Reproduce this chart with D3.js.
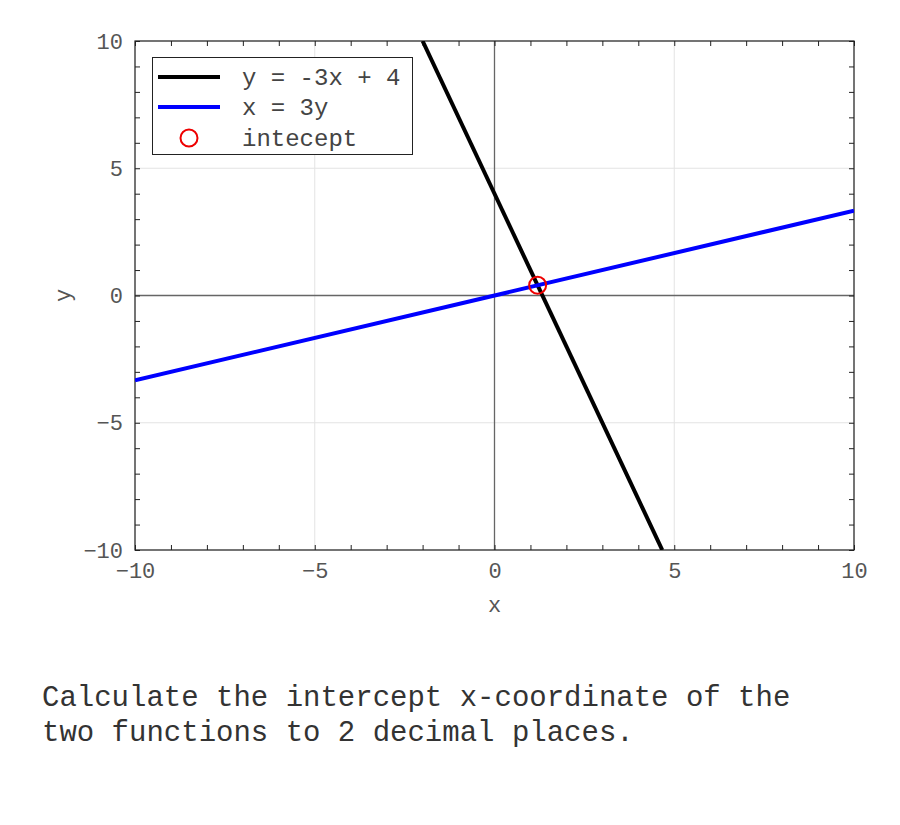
<!DOCTYPE html>
<html><head><meta charset="utf-8">
<script src="https://cdn.jsdelivr.net/npm/d3@7"></script>
<style>body{margin:0;background:#fff;} svg{display:block;}</style>
</head><body>
<svg id="chart" width="900" height="825"></svg>
<script>
const xDomain = [-10, 10];
const yDomain = [-10, 10];
const majorTicks = [-10, -5, 0, 5, 10];
const minorTicks = d3.range(-10, 11, 1);
const lineBlack = [[-2, 10], [14/3, -10]];          // y = -3x + 4
const lineBlue = [[-10, -10/3], [10, 10/3]];         // x = 3y
const intercept = [[1.2, 0.4]];
const legendLabels = ["y = -3x + 4", "x = 3y", "intecept"];
const question = ["Calculate the intercept x-coordinate of the", "two functions to 2 decimal places."];

const svg = d3.select("#chart");
const L = 135, R = 854, T = 41, B = 550;
const font = "'Liberation Mono', 'Courier New', monospace";
const x = d3.scaleLinear().domain(xDomain).range([L, R]);
const y = d3.scaleLinear().domain(yDomain).range([B, T]);

// grid
const g = svg.append("g");
g.selectAll(".gx").data(majorTicks).join("line")
  .attr("x1", d => x(d)).attr("x2", d => x(d)).attr("y1", T).attr("y2", B)
  .attr("stroke", "#e3e3e3").attr("stroke-width", 1);
g.selectAll(".gy").data(majorTicks).join("line")
  .attr("y1", d => y(d)).attr("y2", d => y(d)).attr("x1", L).attr("x2", R)
  .attr("stroke", "#e3e3e3").attr("stroke-width", 1);
// zero axes
g.append("line").attr("x1", x(0)).attr("x2", x(0)).attr("y1", T).attr("y2", B).attr("stroke", "#666").attr("stroke-width", 1.3);
g.append("line").attr("y1", y(0)).attr("y2", y(0)).attr("x1", L).attr("x2", R).attr("stroke", "#666").attr("stroke-width", 1.3);

// ticks via axes (inward)
const fmt = d => d < 0 ? "\u2212" + Math.abs(d) : String(d);
function styleAxis(sel){
  sel.select(".domain").remove();
  sel.selectAll("line").attr("stroke", "#222").attr("stroke-width", 1);
}
svg.append("g").attr("transform", `translate(0,${B})`)
  .call(d3.axisBottom(x).tickValues(minorTicks).tickSize(-5).tickFormat(""))
  .call(styleAxis);
svg.append("g").attr("transform", `translate(0,${T})`)
  .call(d3.axisTop(x).tickValues(minorTicks).tickSize(-5).tickFormat(""))
  .call(styleAxis);
svg.append("g").attr("transform", `translate(${L},0)`)
  .call(d3.axisLeft(y).tickValues(minorTicks).tickSize(-5).tickFormat(""))
  .call(styleAxis);
svg.append("g").attr("transform", `translate(${R},0)`)
  .call(d3.axisRight(y).tickValues(minorTicks).tickSize(-5).tickFormat(""))
  .call(styleAxis);

// tick labels
const xl = svg.append("g").attr("transform", `translate(0,${B})`)
  .call(d3.axisBottom(x).tickValues(majorTicks).tickSize(0).tickPadding(12).tickFormat(fmt));
xl.select(".domain").remove();
xl.selectAll("text").attr("font-family", font).attr("font-size", 22).attr("fill", "#555").attr("dy", "0.71em");
const yl = svg.append("g").attr("transform", `translate(${L},0)`)
  .call(d3.axisLeft(y).tickValues(majorTicks).tickSize(0).tickPadding(12).tickFormat(fmt));
yl.select(".domain").remove();
yl.selectAll("text").attr("font-family", font).attr("font-size", 22).attr("fill", "#555");

// frame
svg.append("rect").attr("x", L).attr("y", T).attr("width", R - L).attr("height", B - T)
  .attr("fill", "none").attr("stroke", "#222").attr("stroke-width", 1.2);

// clip
svg.append("clipPath").attr("id", "clip").append("rect")
  .attr("x", L).attr("y", T).attr("width", R - L).attr("height", B - T);
const line = d3.line().x(d => x(d[0])).y(d => y(d[1]));
const plot = svg.append("g").attr("clip-path", "url(#clip)");
plot.append("path").datum(lineBlack).attr("d", line).attr("stroke", "#000").attr("stroke-width", 4).attr("fill", "none");
plot.append("path").datum(lineBlue).attr("d", line).attr("stroke", "#0000ff").attr("stroke-width", 4).attr("fill", "none");
plot.selectAll(".pt").data(intercept).join("circle")
  .attr("cx", d => x(d[0])).attr("cy", d => y(d[1])).attr("r", 8.5)
  .attr("fill", "none").attr("stroke", "#ee0000").attr("stroke-width", 2);

// axis labels
svg.append("text").attr("x", (L + R) / 2).attr("y", 612).attr("text-anchor", "middle")
  .attr("font-family", font).attr("font-size", 22).attr("fill", "#555").text("x");
svg.append("text").attr("transform", `translate(70,${(T + B) / 2}) rotate(-90)`).attr("text-anchor", "middle")
  .attr("font-family", font).attr("font-size", 22).attr("fill", "#555").text("y");

// legend
const lg = svg.append("g");
lg.append("rect").attr("x", 152.5).attr("y", 57.5).attr("width", 260).attr("height", 97)
  .attr("fill", "#fff").attr("stroke", "#222").attr("stroke-width", 1);
const rowsY = [77, 107, 138];
lg.append("line").attr("x1", 158).attr("x2", 220).attr("y1", rowsY[0]).attr("y2", rowsY[0]).attr("stroke", "#000").attr("stroke-width", 4);
lg.append("line").attr("x1", 158).attr("x2", 220).attr("y1", rowsY[1]).attr("y2", rowsY[1]).attr("stroke", "#0000ff").attr("stroke-width", 4);
lg.append("circle").attr("cx", 189).attr("cy", rowsY[2]).attr("r", 8.5).attr("fill", "none").attr("stroke", "#ee0000").attr("stroke-width", 2);
lg.selectAll(".lt").data(legendLabels).join("text")
  .attr("x", 242).attr("y", (d, i) => rowsY[i]).attr("dy", "0.35em")
  .attr("font-family", font).attr("font-size", 24).attr("fill", "#444")
  .style("white-space", "pre").text(d => d);

// question text
svg.selectAll(".q").data(question).join("text")
  .attr("x", 42).attr("y", (d, i) => 706 + i * 35)
  .attr("font-family", font).attr("font-size", 29).attr("fill", "#333")
  .style("white-space", "pre").text(d => d);
</script>
</body></html>
